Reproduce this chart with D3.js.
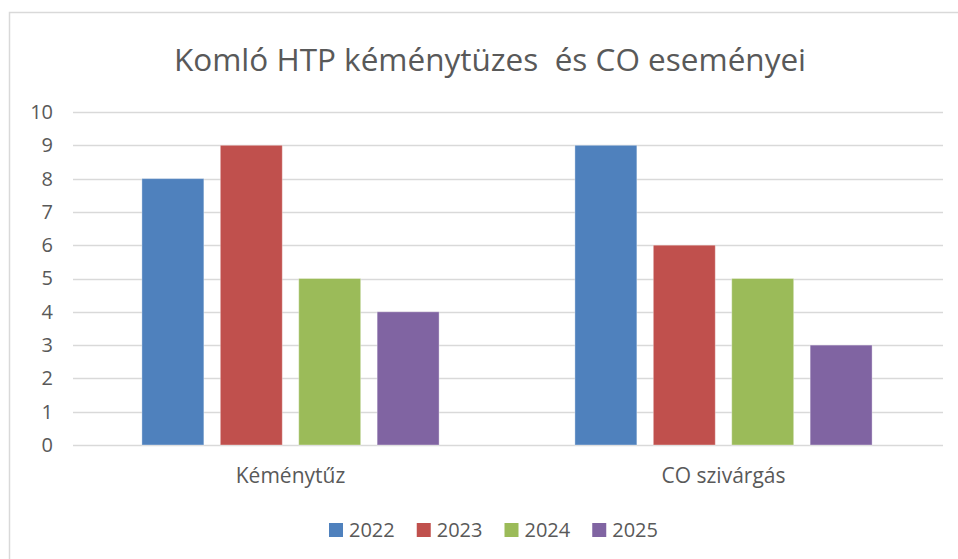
<!DOCTYPE html>
<html>
<head>
<meta charset="utf-8">
<script src="https://cdn.jsdelivr.net/npm/d3@7"></script>
<style>
  body { margin: 0; background: #fff; }
  text { font-family: "Open Sans", "Noto Sans", sans-serif; fill: #595959; }
</style>
</head>
<body>
<svg id="chart" width="958" height="559"></svg>
<script>
const categories = ['Kéménytűz', 'CO szivárgás']
const years = ['2022', '2023', '2024', '2025']
const values = {
  '2022': [8, 9],
  '2023': [9, 6],
  '2024': [5, 5],
  '2025': [4, 3]
}
const yTicks = [0, 1, 2, 3, 4, 5, 6, 7, 8, 9, 10]
const colors = ['#4F81BD', '#C0504D', '#9BBB59', '#8064A2']
const title = 'Komló HTP kéménytüzes  és CO eseményei'

const svg = d3.select('#chart')
const W = 958, H = 559
const plot = { left: 74, right: 940, top: 112, bottom: 445 }

// chart area frame
svg.append('rect')
  .attr('x', 9.5).attr('y', 12.5)
  .attr('width', W).attr('height', H)
  .attr('fill', '#fff')
  .attr('stroke', '#d9d9d9')
  .attr('stroke-width', 1.5)

svg.append('text')
  .attr('x', 490).attr('y', 71)
  .attr('text-anchor', 'middle')
  .style('font-size', '31.5px')
  .style('white-space', 'pre')
  .text(title)

const x0 = d3.scaleBand().domain(categories).range([plot.left, plot.right])
const x1 = d3.scaleBand().domain(years).range([0, x0.bandwidth()])
  .paddingInner(0.21).paddingOuter(0.866)
const y = d3.scaleLinear().domain([0, 10]).range([plot.bottom, plot.top])

// gridlines
svg.append('g')
  .selectAll('line')
  .data(yTicks)
  .join('line')
    .attr('x1', plot.left - 1).attr('x2', plot.right + 3)
    .attr('y1', d => Math.round(y(d)) + 0.5)
    .attr('y2', d => Math.round(y(d)) + 0.5)
    .attr('stroke', '#d9d9d9')
    .attr('stroke-width', 1.5)

// y axis labels
const yAxis = svg.append('g')
  .attr('transform', `translate(${plot.left - 21},0)`)
  .call(d3.axisLeft(y).tickValues(yTicks).tickSize(0).tickPadding(0))
yAxis.select('.domain').remove()
yAxis.selectAll('text')
  .style('font-size', '20px')
  .attr('fill', '#595959')
  .attr('font-family', null)

// bars
const series = years.map((yr, i) => ({ year: yr, color: colors[i], vals: values[yr] }))
svg.append('g')
  .selectAll('g')
  .data(series)
  .join('g')
    .attr('fill', d => d.color)
  .selectAll('rect')
  .data(d => d.vals.map((v, j) => ({ year: d.year, cat: categories[j], v })))
  .join('rect')
    .attr('x', d => x0(d.cat) + x1(d.year))
    .attr('y', d => y(d.v))
    .attr('width', x1.bandwidth())
    .attr('height', d => y(0) - y(d.v))
    .attr('stroke', 'rgba(255,255,255,0.35)')
    .attr('stroke-width', 1)

// category labels
const xAxis = svg.append('g')
  .attr('transform', `translate(0,${plot.bottom})`)
  .call(d3.axisBottom(x0).tickSize(0).tickPadding(0))
xAxis.select('.domain').remove()
xAxis.selectAll('text')
  .style('font-size', '21px')
  .attr('fill', '#595959')
  .attr('y', 38)
  .attr('dy', null)

// legend
const legendX = d3.scaleBand().domain(years).range([329, 680])
const legend = svg.append('g')
  .selectAll('g')
  .data(series)
  .join('g')
    .attr('transform', d => `translate(${legendX(d.year)},530)`)
legend.append('rect')
  .attr('x', 0).attr('y', -7)
  .attr('width', 14).attr('height', 14)
  .attr('fill', d => d.color)
legend.append('text')
  .attr('x', 20).attr('dy', '0.36em')
  .style('font-size', '20px')
  .text(d => d.year)
</script>
</body>
</html>
